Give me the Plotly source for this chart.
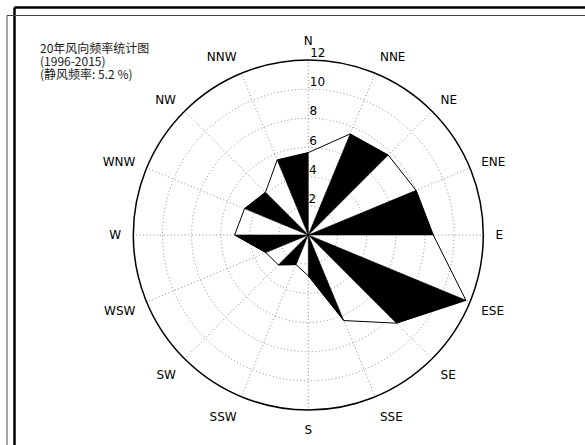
import plotly.graph_objects as go

# 16-point compass, clockwise from north
directions = ["N", "NNE", "NE", "ENE", "E", "ESE", "SE", "SSE",
              "S", "SSW", "SW", "WSW", "W", "WNW", "NW", "NNW"]
angles = [i * 22.5 for i in range(16)]
# wind direction frequency (%), 1996-2015
freq = [5.65, 7.5, 7.75, 8.0, 8.57, 11.7, 8.55, 6.35,
        2.8, 2.2, 2.9, 3.15, 5.05, 4.73, 4.15, 5.57]
calm = 5.2
radial_ticks = [2, 4, 6, 8, 10, 12]
title_lines = ["20年风向频率统计图", "(1996-2015)", f"(静风频率: {calm} %)"]

W, H = 585, 445
fig = go.Figure()

# black wedges between each even direction and the one before it
n = len(directions)
for k in range(0, n, 2):
    a, b = k, (k - 1) % n
    fig.add_trace(go.Scatterpolar(
        r=[0, freq[a], freq[b], 0],
        theta=[angles[a], angles[a], angles[b], angles[b]],
        mode="lines", fill="toself", fillcolor="black",
        line=dict(color="black", width=0.5), hoverinfo="skip",
        showlegend=False))

# outline joining every direction
fig.add_trace(go.Scatterpolar(
    r=freq + [freq[0]], theta=angles + [angles[0]],
    mode="lines", line=dict(color="black", width=1),
    showlegend=False))

# ring values written just above each ring, on the north spoke
fig.add_trace(go.Scatterpolar(
    r=radial_ticks, theta=[0.6] * len(radial_ticks),
    mode="text", text=[str(t) for t in radial_ticks],
    textposition="top right", cliponaxis=False,
    textfont=dict(family="DejaVu Sans", size=12, color="black"),
    hoverinfo="skip", showlegend=False))

cx, cy, R = 308.3, 235, 175
fig.update_layout(
    width=W, height=H,
    margin=dict(l=0, r=0, t=0, b=0),
    paper_bgcolor="white", plot_bgcolor="white",
    polar=dict(
        domain=dict(x=[(cx - R) / W, (cx + R) / W],
                    y=[(H - cy - R) / H, (H - cy + R) / H]),
        bgcolor="white",
        radialaxis=dict(
            range=[0, 12], tickmode="array", tickvals=radial_ticks,
            angle=90, showticklabels=False,
            showline=False, ticks="",
            gridcolor="#8a8a8a", griddash="1px,2.5px", gridwidth=1),
        angularaxis=dict(
            direction="clockwise", rotation=90, thetaunit="degrees",
            tickmode="array", tickvals=angles, ticktext=directions,
            showline=True, linecolor="black", linewidth=1.5,
            ticks="outside", ticklen=9, tickcolor="rgba(0,0,0,0)",
            gridcolor="#8a8a8a", griddash="1px,2.5px", gridwidth=1,
            tickfont=dict(family="DejaVu Sans", size=12, color="black")),
    ),
)

# title block
for i, line in enumerate(title_lines):
    fig.add_annotation(
        x=39 / W, y=1 - (48 + i * 12.5) / H, xref="paper", yref="paper",
        xanchor="left", yanchor="middle", showarrow=False, text=line,
        borderpad=0,
        font=dict(family="Noto Sans CJK SC", size=12, color="#1a1a1a"))

# double frame lines along the top and left edges
fig.add_shape(type="line", xref="paper", yref="paper",
              x0=14.5 / W, x1=1, y0=1 - 7.5 / H, y1=1 - 7.5 / H,
              line=dict(color="black", width=2.5))
fig.add_shape(type="line", xref="paper", yref="paper",
              x0=14.5 / W, x1=14.5 / W, y0=1 - 7.5 / H, y1=0,
              line=dict(color="black", width=2.5))
fig.add_shape(type="line", xref="paper", yref="paper",
              x0=7 / W, x1=1, y0=1 - 15.5 / H, y1=1 - 15.5 / H,
              line=dict(color="#444", width=1))
fig.add_shape(type="line", xref="paper", yref="paper",
              x0=7 / W, x1=7 / W, y0=1 - 15.5 / H, y1=0,
              line=dict(color="#444", width=1))

fig.write_html("out.html")
